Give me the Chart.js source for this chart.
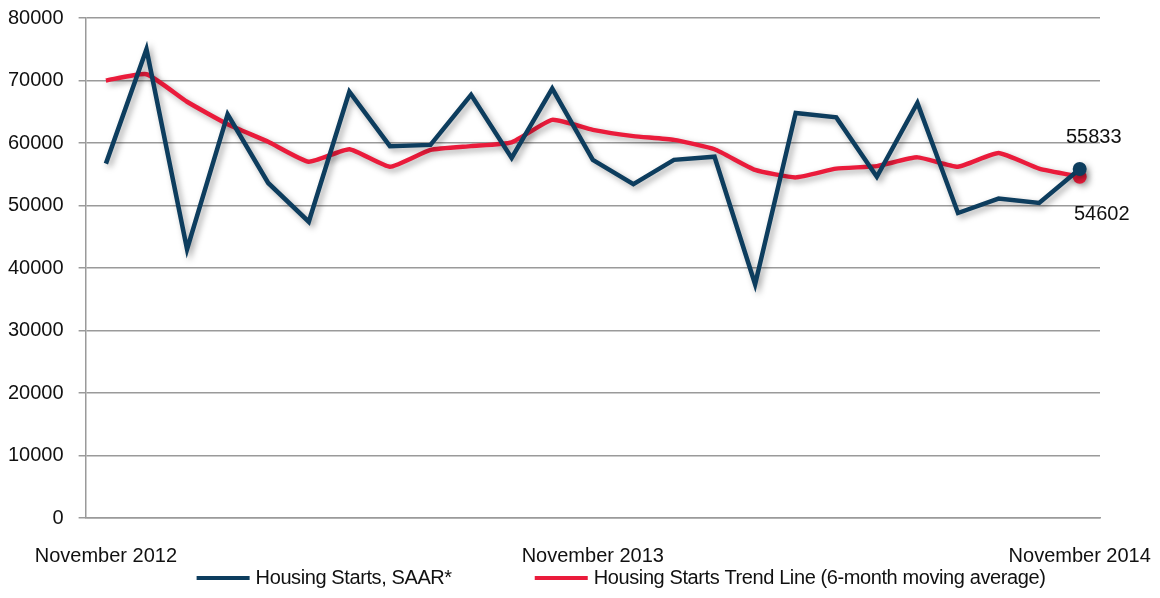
<!DOCTYPE html>
<html>
<head>
<meta charset="utf-8">
<script src="https://cdn.jsdelivr.net/npm/chart.js@4.4.1/dist/chart.umd.min.js"></script>
<style>
  html, body { margin: 0; padding: 0; background: #ffffff; }
  #wrap { width: 1160px; height: 598px; position: relative; }
</style>
</head>
<body>
<div id="wrap"><canvas id="c" width="1160" height="598"></canvas></div>
<script>
const categories = [
  "November 2012", "December 2012", "January 2013", "February 2013", "March 2013",
  "April 2013", "May 2013", "June 2013", "July 2013", "August 2013",
  "September 2013", "October 2013", "November 2013", "December 2013", "January 2014",
  "February 2014", "March 2014", "April 2014", "May 2014", "June 2014",
  "July 2014", "August 2014", "September 2014", "October 2014", "November 2014"
];
const shownTickLabels = ["November 2012", "November 2013", "November 2014"];
const housingStarts = [
  56700, 75000, 43000, 64600, 53600, 47400, 68200, 59500, 59700, 67700,
  57600, 68700, 57300, 53400, 57300, 57800, 37400, 64800, 64100, 54600,
  66400, 48800, 51100, 50400, 55833
];
const trendLine = [
  70000, 71000, 66600, 63000, 60200, 57000, 59000, 56200, 58900, 59500,
  60100, 63700, 62100, 61100, 60500, 59000, 55700, 54500, 55900, 56300,
  57700, 56200, 58400, 55900, 54602
];
const seriesNames = ["Housing Starts, SAAR*", "Housing Starts Trend Line (6-month moving average)"];
const yTicks = [0, 10000, 20000, 30000, 40000, 50000, 60000, 70000, 80000];

const BLUE = "#0d3d5e";
const RED = "#ea1b3b";
const FONT = "'Liberation Sans', Arial, sans-serif";

function lastOnly(r) {
  return categories.map((_, i) => (i === categories.length - 1 ? r : 0));
}

const shadowPlugin = {
  id: "shadowPlugin",
  beforeDatasetDraw(chart) {
    const ctx = chart.ctx;
    ctx.save();
    ctx.shadowColor = "rgba(0,0,0,0.35)";
    ctx.shadowBlur = 6;
    ctx.shadowOffsetX = 3;
    ctx.shadowOffsetY = 3;
  },
  afterDatasetDraw(chart) {
    chart.ctx.restore();
  }
};

const endLabelPlugin = {
  id: "endLabelPlugin",
  afterDatasetsDraw(chart) {
    const ctx = chart.ctx;
    ctx.save();
    ctx.font = "20px " + FONT;
    ctx.fillStyle = "#111";
    ctx.textAlign = "center";
    ctx.textBaseline = "middle";
    const b = chart.getDatasetMeta(0).data[categories.length - 1];
    const r = chart.getDatasetMeta(1).data[categories.length - 1];
    ctx.fillText(String(housingStarts[housingStarts.length - 1]), b.x + 14, b.y - 32);
    ctx.fillText(String(trendLine[trendLine.length - 1]), r.x + 22, r.y + 38);
    ctx.restore();
  }
};

const legendPlugin = {
  id: "legendPlugin",
  afterDraw(chart) {
    const ctx = chart.ctx;
    const area = chart.chartArea;
    ctx.save();
    ctx.font = "20px " + FONT;
    try { ctx.letterSpacing = "-0.4px"; } catch (e) {}
    ctx.textBaseline = "middle";
    ctx.textAlign = "left";
    const y = 578;
    let x = area.left + 111;
    chart.data.datasets.forEach((ds, i) => {
      ctx.strokeStyle = ds.borderColor;
      ctx.lineWidth = 4;
      ctx.beginPath();
      ctx.moveTo(x, y);
      ctx.lineTo(x + 53, y);
      ctx.stroke();
      ctx.fillStyle = "#111";
      ctx.fillText(ds.label, x + 59, y);
      x += 59 + ctx.measureText(ds.label).width + 83;
    });
    ctx.restore();
  }
};

new Chart(document.getElementById("c"), {
  type: "line",
  data: {
    labels: categories,
    datasets: [
      {
        label: seriesNames[0],
        data: housingStarts,
        borderColor: BLUE,
        backgroundColor: BLUE,
        borderWidth: 4.5,
        tension: 0,
        pointRadius: lastOnly(7),
        pointHoverRadius: lastOnly(7),
        pointBackgroundColor: BLUE,
        pointBorderWidth: 0,
        fill: false
      },
      {
        label: seriesNames[1],
        data: trendLine,
        borderColor: RED,
        backgroundColor: RED,
        borderWidth: 4.5,
        tension: 0.15,
        pointRadius: lastOnly(7),
        pointHoverRadius: lastOnly(7),
        pointBackgroundColor: RED,
        pointBorderWidth: 0,
        fill: false
      }
    ]
  },
  options: {
    responsive: false,
    animation: false,
    devicePixelRatio: 1,
    layout: { padding: { left: 8, right: 60, top: 18, bottom: 28 } },
    plugins: {
      legend: { display: false },
      tooltip: { enabled: false }
    },
    scales: {
      x: {
        offset: true,
        grid: { display: true, drawOnChartArea: false, drawTicks: true, tickLength: 24, color: "rgba(0,0,0,0)" },
        border: { display: true, color: "#9a9a9a", width: 1.5 },
        ticks: {
          autoSkip: false,
          maxRotation: 0,
          minRotation: 0,
          padding: 2,
          color: "#111",
          font: { family: FONT, size: 20 },
          callback(value, index) {
            const l = categories[index];
            return shownTickLabels.includes(l) ? l : "";
          }
        }
      },
      y: {
        min: 0,
        max: 80000,
        afterBuildTicks(scale) { scale.ticks = yTicks.map(v => ({ value: v })); },
        grid: {
          color: "#9a9a9a", lineWidth: 1.5, tickLength: 22, drawTicks: true,
          tickBorderDash: [7, 15], tickBorderDashOffset: 7
        },
        border: { display: true, color: "#9a9a9a", width: 1.5 },
        ticks: {
          padding: 0,
          color: "#111",
          font: { family: FONT, size: 20 },
          callback(v) { return String(v); }
        }
      }
    }
  },
  plugins: [shadowPlugin, endLabelPlugin, legendPlugin]
});
</script>
</body>
</html>
